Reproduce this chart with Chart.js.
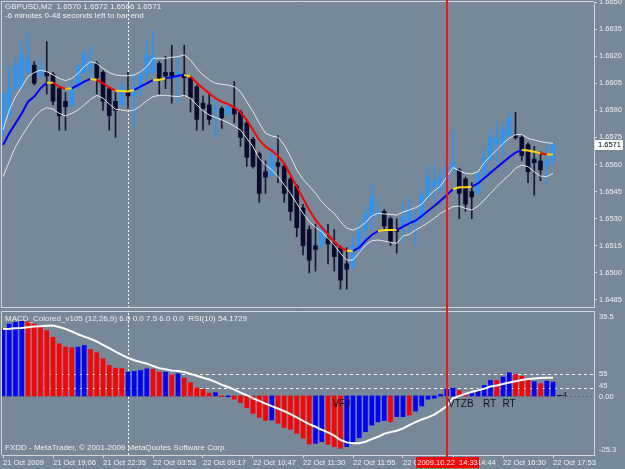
<!DOCTYPE html>
<html>
<head>
<meta charset="utf-8">
<script src="https://cdn.jsdelivr.net/npm/chart.js@4.4.1/dist/chart.umd.min.js"></script>
<style>
  body { margin:0; background:#778899; }
  #wrap { position:relative; width:625px; height:469px; overflow:hidden; background:#778899; }
  canvas { position:absolute; left:0; }
  #priceChart { top:0; }
  #macdChart { top:310px; }
</style>
</head>
<body>
<div id="wrap">
  <canvas id="priceChart" width="625" height="310"></canvas>
  <canvas id="macdChart" width="625" height="159"></canvas>
</div>
<script>
// ---- data (GBPUSD M2) ----
var priceTicks = [1.6650,1.6635,1.6620,1.6605,1.6590,1.6575,1.6560,1.6545,1.6530,1.6515,1.6500,1.6485];
var tickBars = [0,8,16,24,32,40,48,56,64,72,80,88];
var timeLabels = ['21 Oct 2009','21 Oct 19:06','21 Oct 22:35','22 Oct 03:53','22 Oct 09:17','22 Oct 10:47',
                  '22 Oct 11:30','22 Oct 11:55','22 Oct 13:12','22 Oct 14:44','22 Oct 16:30','22 Oct 17:53'];

var openP  = [1.6579,1.6587,1.6602,1.6603,1.6611,1.6615,1.6609,1.6611,1.6610,1.6602,
              1.6595,1.6593,1.6603,1.6611,1.6613,1.6616,1.6611,1.6602,1.6595,1.6593,
              1.6600,1.6598,1.6602,1.6610,1.6611,1.6616,1.6611,1.6611,1.6609,1.6610,
              1.6608,1.6603,1.6594,1.6593,1.6590,1.6591,1.6588,1.6591,1.6589,1.6583,
              1.6574,1.6566,1.6556,1.6554,1.6561,1.6559,1.6552,1.6548,1.6536,1.6524,
              1.6515,1.6515,1.6519,1.6517,1.6514,1.6505,1.6503,1.6513,1.6524,1.6531,
              1.6533,1.6534,1.6530,1.6524,1.6526,1.6529,1.6527,1.6531,1.6542,1.6548,
              1.6546,1.6551,1.6557,1.6557,1.6552,1.6545,1.6544,1.6555,1.6563,1.6571,
              1.6571,1.6576,1.6576,1.6575,1.6571,1.6563,1.6562,1.6559,1.6562];
var highP  = [1.6600,1.6614,1.6619,1.6629,1.6633,1.6617,1.6619,1.6628,1.6611,1.6603,
              1.6600,1.6607,1.6616,1.6623,1.6626,1.6617,1.6612,1.6603,1.6600,1.6605,
              1.6611,1.6610,1.6613,1.6629,1.6634,1.6617,1.6620,1.6626,1.6620,1.6626,
              1.6609,1.6604,1.6598,1.6599,1.6598,1.6592,1.6593,1.6606,1.6590,1.6584,
              1.6575,1.6567,1.6562,1.6570,1.6576,1.6560,1.6553,1.6549,1.6538,1.6526,
              1.6527,1.6526,1.6527,1.6524,1.6515,1.6514,1.6520,1.6529,1.6537,1.6549,
              1.6539,1.6535,1.6531,1.6530,1.6539,1.6542,1.6535,1.6546,1.6560,1.6559,
              1.6557,1.6563,1.6579,1.6558,1.6553,1.6550,1.6556,1.6569,1.6579,1.6584,
              1.6582,1.6589,1.6589,1.6576,1.6572,1.6570,1.6567,1.6570,1.6572];
var lowP   = [1.6576,1.6586,1.6601,1.6602,1.6610,1.6604,1.6608,1.6599,1.6593,1.6579,
              1.6579,1.6592,1.6602,1.6610,1.6608,1.6599,1.6590,1.6579,1.6575,1.6592,
              1.6591,1.6581,1.6598,1.6607,1.6610,1.6599,1.6602,1.6594,1.6594,1.6598,
              1.6589,1.6579,1.6579,1.6582,1.6575,1.6580,1.6587,1.6583,1.6570,1.6559,
              1.6558,1.6539,1.6544,1.6553,1.6550,1.6539,1.6529,1.6520,1.6510,1.6500,
              1.6501,1.6514,1.6505,1.6501,1.6491,1.6491,1.6502,1.6512,1.6515,1.6524,
              1.6531,1.6524,1.6515,1.6511,1.6516,1.6522,1.6515,1.6529,1.6540,1.6540,
              1.6544,1.6548,1.6555,1.6530,1.6534,1.6530,1.6543,1.6553,1.6562,1.6561,
              1.6564,1.6575,1.6574,1.6562,1.6550,1.6543,1.6551,1.6549,1.6560];
var closeP = [1.6599,1.6602,1.6615,1.6621,1.6618,1.6605,1.6613,1.6609,1.6595,1.6587,
              1.6592,1.6603,1.6614,1.6621,1.6616,1.6608,1.6595,1.6587,1.6590,1.6603,
              1.6598,1.6603,1.6610,1.6621,1.6620,1.6608,1.6609,1.6609,1.6611,1.6608,
              1.6597,1.6585,1.6591,1.6585,1.6591,1.6586,1.6592,1.6588,1.6575,1.6564,
              1.6559,1.6544,1.6553,1.6565,1.6559,1.6544,1.6534,1.6525,1.6515,1.6507,
              1.6513,1.6525,1.6516,1.6509,1.6496,1.6502,1.6515,1.6524,1.6533,1.6542,
              1.6534,1.6526,1.6517,1.6523,1.6531,1.6535,1.6530,1.6543,1.6553,1.6551,
              1.6553,1.6559,1.6561,1.6544,1.6538,1.6542,1.6555,1.6564,1.6575,1.6574,
              1.6579,1.6586,1.6575,1.6565,1.6556,1.6561,1.6557,1.6562,1.6571];

// colored moving average: b = rising, r = falling, y = flat
var maLine = [1.65708,1.65773,1.65828,1.65883,1.65948,1.65976,1.66022,1.66053,1.66053,1.66031,
              1.66018,1.66022,1.66040,1.66059,1.66074,1.66068,1.66050,1.66027,1.66009,1.66007,
              1.66005,1.66013,1.66031,1.66050,1.66068,1.66068,1.66077,1.66083,1.66092,1.66096,
              1.66087,1.66053,1.66022,1.65994,1.65967,1.65948,1.65935,1.65917,1.65889,1.65847,
              1.65791,1.65736,1.65699,1.65677,1.65647,1.65607,1.65542,1.65477,1.65413,1.65348,
              1.65293,1.65252,1.65215,1.65173,1.65141,1.65123,1.65121,1.65141,1.65178,1.65210,
              1.65232,1.65237,1.65237,1.65237,1.65256,1.65274,1.65289,1.65315,1.65343,1.65370,
              1.65400,1.65431,1.65463,1.65474,1.65474,1.65477,1.65496,1.65524,1.65555,1.65584,
              1.65612,1.65640,1.65666,1.65680,1.65677,1.65671,1.65662,1.65655,1.65656];
var maState = 'bbbbbbbb' + 'y' + 'rr' + 'y' + 'bbb' + 'y' + 'rrr' + 'yyy' + 'bbb' + 'yy' + 'bbb' + 'y' +
              'rrrrrrrrrrrrrrrrrrrrrrrrr' + 'y' + 'bbbb' + 'yyy' + 'bbbbbbbbb' + 'yyy' + 'bbbbbbbb' + 'yyy' + 'r' + 'y';
var bandUp = [1.65791,1.65902,1.65976,1.66031,1.66087,1.66109,1.66123,1.66114,1.66096,1.66077,
              1.66064,1.66077,1.66105,1.66142,1.66170,1.66160,1.66133,1.66109,1.66096,1.66092,
              1.66092,1.66096,1.66114,1.66142,1.66188,1.66188,1.66188,1.66194,1.66197,1.66207,
              1.66179,1.66133,1.66096,1.66068,1.66050,1.66044,1.66040,1.66031,1.66003,1.65948,
              1.65893,1.65828,1.65773,1.65758,1.65751,1.65708,1.65644,1.65570,1.65518,1.65481,
              1.65440,1.65394,1.65357,1.65330,1.65284,1.65247,1.65237,1.65252,1.65278,1.65315,
              1.65330,1.65326,1.65324,1.65320,1.65337,1.65348,1.65361,1.65380,1.65422,1.65455,
              1.65481,1.65533,1.65584,1.65566,1.65551,1.65548,1.65560,1.65610,1.65647,1.65680,
              1.65717,1.65745,1.65765,1.65767,1.65745,1.65736,1.65727,1.65721,1.65717];
var bandDn = [1.65533,1.65616,1.65699,1.65758,1.65810,1.65861,1.65898,1.65915,1.65906,1.65883,
              1.65869,1.65883,1.65902,1.65930,1.65961,1.65983,1.65967,1.65935,1.65906,1.65902,
              1.65896,1.65902,1.65924,1.65954,1.65976,1.65983,1.65983,1.65979,1.65976,1.65983,
              1.65967,1.65930,1.65898,1.65874,1.65861,1.65847,1.65832,1.65813,1.65791,1.65745,
              1.65699,1.65634,1.65597,1.65570,1.65533,1.65487,1.65440,1.65385,1.65330,1.65284,
              1.65252,1.65228,1.65191,1.65154,1.65108,1.65071,1.65071,1.65112,1.65154,1.65178,
              1.65182,1.65176,1.65169,1.65164,1.65204,1.65213,1.65237,1.65256,1.65278,1.65302,
              1.65330,1.65348,1.65367,1.65370,1.65357,1.65348,1.65370,1.65404,1.65440,1.65477,
              1.65511,1.65542,1.65579,1.65597,1.65588,1.65560,1.65536,1.65533,1.65551];

// MACD_Colored histogram (b/r), signal and RSI(10)
var macdHist = [28.7,30.8,31.5,32.0,31.8,30.8,29.4,28.0,25.1,22.3,
                20.9,20.6,20.9,21.6,19.9,18.5,15.9,13.1,11.9,11.7,
                10.2,10.5,10.9,11.6,11.4,10.2,10.2,9.1,9.5,7.7,
                5.7,3.4,2.8,1.2,1.4,-0.3,-0.4,-1.4,-2.9,-5.1,
                -7.5,-9.2,-10.5,-10.3,-11.7,-13.5,-14.3,-16.0,-18.1,-20.6,
                -20.3,-19.6,-20.7,-21.7,-22.4,-21.7,-19.6,-17.9,-15.3,-12.5,
                -11.1,-10.5,-11.1,-8.9,-8.9,-8.2,-6.5,-4.3,-1.4,-1.0,
                0.6,2.8,3.3,2.3,1.0,1.7,2.9,4.5,6.6,6.6,
                8.1,9.9,9.2,8.4,6.8,6.1,5.3,6.3,5.9];
var histState = 'bbbb' + 'rrrrrrrr' + 'bb' + 'rrrrrr' + 'bbbb' + 'rr' + 'b' + 'r' + 'b' + 'rrrrr' + 'b' + 'r' + 'b' +
                'rrrrrr' + 'b' + 'rrrrrr' + 'bb' + 'rrr' + 'bbbbbbb' + 'r' + 'bb' + 'r' + 'bbbbbbb' + 'rr' +
                'bbbb' + 'r' + 'bb' + 'rrr' + 'b' + 'r' + 'bb';
var macdSignal = [28.7,28.8,29.0,29.1,29.4,29.7,29.8,30.0,30.1,29.5,
                  28.7,27.6,26.4,25.4,24.4,23.3,21.9,20.5,19.0,17.6,
                  16.3,15.3,14.5,13.8,12.8,11.9,11.4,10.9,10.7,10.2,
                  9.4,8.6,7.8,7.0,6.0,4.8,3.8,2.7,1.4,0.3,
                  -1.0,-2.1,-3.3,-4.4,-5.4,-6.5,-7.8,-9.2,-10.7,-12.1,
                  -13.2,-14.5,-15.6,-17.0,-18.9,-19.9,-20.3,-20.3,-19.6,-18.5,
                  -17.5,-16.2,-15.5,-14.9,-13.9,-12.5,-11.2,-10.1,-9.2,-8.0,
                  -6.3,-4.3,-1.1,0.0,0.9,1.7,2.4,3.1,4.0,4.5,
                  5.1,5.7,6.3,6.8,7.2,7.5,7.7,7.8,7.8];
var rsiLine = [70.7,72.8,74.6,76.5,71.1,65.8,72.8,65.4,56.1,48.7,
               55.0,58.4,61.4,64.7,58.4,53.8,49.6,44.1,48.7,53.8,
               47.3,52.6,57.3,60.7,52.6,49.2,57.7,49.6,55.0,46.8,
               44.5,43.4,46.8,43.1,49.6,45.7,50.5,45.0,43.4,41.7,
               40.4,42.7,46.4,45.0,41.7,38.0,34.8,31.8,29.2,27.9,
               35.7,42.7,39.4,35.7,32.5,40.4,44.5,48.0,52.6,57.3,
               48.7,45.0,42.5,51.5,53.3,46.8,51.9,56.1,59.6,51.5,
               57.3,60.7,53.3,48.7,46.4,53.8,56.6,59.6,61.9,53.3,
               57.3,61.9,56.6,49.6,52.6,55.0,47.3,53.3,54.2];
var rsiLevels = [55, 45];
var macdLabels = [35.5, 0, -25.3];

var noteText = ['VFJ','VTZB','RT','RT'];
var noteBar  = [52.7, 71.2, 76.8, 79.9];
var cursorBar = 71, crossBar = 20, lastPrice = 1.6571;

// ---- look ----
var FRAME = '#d3d7dc', TXT = '#f0f0f0';
var FONT = '"Liberation Sans", Arial, sans-serif';
var X_MIN = -0.16, X_MAX = 94.56;
var stateCol = {b:'#0000ff', r:'#ff0000', y:'#ffd700'};

function pts(arr){ return arr.map(function(v,i){ return {x:i, y:v}; }); }
function isUp(i){ return closeP[i] >= openP[i]; }
function crisp(v){ return Math.round(v) + 0.5; }

function vline(ctx, x, y0, y1, col, dash){
  ctx.save(); ctx.strokeStyle = col; ctx.lineWidth = 1;
  if (dash) ctx.setLineDash(dash);
  ctx.beginPath(); ctx.moveTo(crisp(x), y0); ctx.lineTo(crisp(x), y1); ctx.stroke();
  ctx.restore();
}
function hline(ctx, y, x0, x1, col, dash){
  ctx.save(); ctx.strokeStyle = col; ctx.lineWidth = 1;
  if (dash) ctx.setLineDash(dash);
  ctx.beginPath(); ctx.moveTo(x0, crisp(y)); ctx.lineTo(x1, crisp(y)); ctx.stroke();
  ctx.restore();
}
function redLine(ctx, x, y0, y1){
  ctx.save(); ctx.fillStyle = '#ff1010';
  ctx.fillRect(Math.round(x) - 1, y0, 2, y1 - y0);
  ctx.restore();
}
function text(ctx, s, x, y, col, size){
  ctx.save(); ctx.fillStyle = col; ctx.font = (size || 8) + 'px ' + FONT;
  ctx.textBaseline = 'middle'; ctx.textAlign = 'left';
  ctx.fillText(s, x, y); ctx.restore();
}
function noPad(s){ s.paddingTop = 0; s.paddingBottom = 0; s.paddingLeft = 0; s.paddingRight = 0; }

var pricePlugin = {
  id: 'pricePlugin',
  beforeDatasetsDraw: function(chart){
    var a = chart.chartArea, xs = chart.scales.x;
    vline(chart.ctx, xs.getPixelForValue(crossBar), a.top, a.bottom, '#ffffff', [2,2]);
  },
  afterDraw: function(chart){
    var c = chart.ctx, a = chart.chartArea, xs = chart.scales.x, ys = chart.scales.y;
    vline(c, a.left - 1, a.top - 1, a.bottom, FRAME);
    hline(c, a.top - 1, a.left - 1, a.right, FRAME);
    hline(c, a.bottom, a.left - 1, a.right, FRAME);
    redLine(c, xs.getPixelForValue(cursorBar), 0, chart.height);
    text(c, 'GBPUSD,M2  1.6570 1.6572 1.6566 1.6571', 5, 7, TXT, 8);
    text(c, '-6 minutes 0-48 seconds left to bar end', 5, 16, TXT, 8);
    var py = ys.getPixelForValue(lastPrice);
    c.fillStyle = '#ffffff';
    c.fillRect(a.right + 1, Math.round(py) - 5, 28, 10);
    text(c, lastPrice.toFixed(4), a.right + 4, py, '#000000', 7.5);
  }
};

var macdPlugin = {
  id: 'macdPlugin',
  beforeDatasetsDraw: function(chart){
    var c = chart.ctx, a = chart.chartArea, xs = chart.scales.x, rs = chart.scales.rsi, ms = chart.scales.y;
    hline(c, ms.getPixelForValue(0), a.left, a.right, '#5f6b78', [2,2]);
    rsiLevels.forEach(function(l){ hline(c, rs.getPixelForValue(l), a.left, a.right, '#ffffff', [3,3]); });
    vline(c, xs.getPixelForValue(crossBar), a.top, a.bottom, '#ffffff', [2,2]);
  },
  afterDraw: function(chart){
    var c = chart.ctx, a = chart.chartArea, xs = chart.scales.x, rs = chart.scales.rsi, ms = chart.scales.y;
    vline(c, a.left - 1, a.top - 2, a.bottom, FRAME);
    hline(c, a.top - 2, a.left - 1, a.right, FRAME);
    vline(c, a.right, a.top - 2, a.bottom, FRAME);
    text(c, 'MACD_Colored_v105 (12,26,9) 6.0 0.0 7.5 6.0 0.0  RSI(10) 54.1729', 5, a.top + 6, TXT, 8);
    text(c, 'FXDD - MetaTrader, \u00a9 2001-2009 MetaQuotes Software Corp.', 5, a.bottom - 7, TXT, 8);
    // right scale labels
    text(c, '35.5', a.right + 5, ms.getPixelForValue(macdLabels[0]) + 4, TXT, 7.5);
    text(c, '0.00', a.right + 5, ms.getPixelForValue(macdLabels[1]) + 1, TXT, 7.5);
    text(c, '-25.3', a.right + 5, ms.getPixelForValue(macdLabels[2]) - 5, TXT, 7.5);
    text(c, String(rsiLevels[0]), a.right + 5, rs.getPixelForValue(rsiLevels[0]), TXT, 7.5);
    text(c, String(rsiLevels[1]), a.right + 5, rs.getPixelForValue(rsiLevels[1]) - 2, TXT, 7.5);
    // object labels
    var ny = ms.getPixelForValue(-3.4);
    noteText.forEach(function(s, k){ text(c, s, xs.getPixelForValue(noteBar[k]), ny, '#10131c', 10); });
    var lx = xs.getPixelForValue(88) + 4;
    hline(c, ms.getPixelForValue(0.2), lx, lx + 5, '#10131c');
    text(c, '4', lx + 6, ms.getPixelForValue(0.2), '#10131c', 7);
    // cursor line + time box
    var cx = xs.getPixelForValue(cursorBar);
    redLine(c, cx, 0, a.bottom + 2);
    c.fillStyle = '#ff0000';
    c.fillRect(Math.round(cx) - 31, a.bottom + 2, 63, 11);
    c.save(); c.fillStyle = '#ffffff'; c.font = '7.5px ' + FONT; c.textAlign = 'center'; c.textBaseline = 'middle';
    c.fillText('2009.10.22  14:33', Math.round(cx) + 0.5, a.bottom + 8); c.restore();
  }
};

Chart.defaults.font.family = FONT;

new Chart(document.getElementById('priceChart'), {
  type: 'bar',
  data: {
    datasets: [
      { type:'line', order:0, data: pts(maLine), borderWidth:2, pointRadius:0, tension:0,
        borderColor:'#0000ff',
        segment: { borderColor: function(ctx){ return stateCol[maState[ctx.p1DataIndex]]; } } },
      { type:'line', order:1, data: pts(bandUp), borderWidth:1, borderColor:'#e6e6e6', pointRadius:0, tension:0 },
      { type:'line', order:1, data: pts(bandDn), borderWidth:1, borderColor:'#e6e6e6', pointRadius:0, tension:0 },
      { order:2, grouped:false, barThickness:4, minBarLength:1, borderWidth:0,
        data: openP.map(function(o,i){ return {x:i, y:[o, closeP[i]]}; }),
        backgroundColor: function(ctx){ return isUp(ctx.dataIndex) ? '#2f95f0' : '#0a0b2c'; } },
      { order:3, grouped:false, barThickness:1, borderWidth:0,
        data: lowP.map(function(l,i){ return {x:i, y:[l, highP[i]]}; }),
        backgroundColor: function(ctx){ return isUp(ctx.dataIndex) ? '#2f95f0' : '#16172e'; } }
    ]
  },
  options: {
    responsive:false, animation:false, events:[],
    layout: { padding: { left:2, top:2, right:0, bottom:3 } },
    plugins: { legend:{display:false}, tooltip:{enabled:false} },
    scales: {
      x: { type:'linear', display:false, min:X_MIN, max:X_MAX, offset:false, grid:{offset:false} },
      y: { position:'right', min:1.64811, max:1.6650,
           afterBuildTicks: function(s){ s.ticks = priceTicks.map(function(v){ return {value:v}; }); },
           afterFit: function(s){ s.width = 31; noPad(s); },
           border: { color:FRAME },
           grid: { drawOnChartArea:false, tickLength:3, color:FRAME },
           ticks: { autoSkip:false, color:TXT, padding:2, font:{size:7.5},
                    callback: function(v){ return Number(v).toFixed(4); } } }
    }
  },
  plugins: [pricePlugin]
});

new Chart(document.getElementById('macdChart'), {
  type: 'bar',
  data: {
    datasets: [
      { type:'line', order:0, yAxisID:'rsi', data: pts(rsiLine), borderWidth:1.5, borderColor:'#22ee22', pointRadius:0, tension:0 },
      { type:'line', order:1, data: pts(macdSignal), borderWidth:2, borderColor:'#ffffff', pointRadius:0, tension:0 },
      { order:2, grouped:false, barThickness:4, borderWidth:0, data: pts(macdHist),
        backgroundColor: function(ctx){ return histState[ctx.dataIndex] === 'b' ? '#0000ff' : '#ff0000'; } }
    ]
  },
  options: {
    responsive:false, animation:false, events:[],
    layout: { padding: { left:2, top:3, right:0, bottom:0 } },
    plugins: { legend:{display:false}, tooltip:{enabled:false} },
    scales: {
      x: { type:'linear', position:'bottom', min:X_MIN, max:X_MAX, offset:false,
           afterBuildTicks: function(s){ s.ticks = tickBars.map(function(v){ return {value:v}; }); },
           afterFit: function(s){ s.height = 14; noPad(s); },
           border: { color:FRAME },
           grid: { drawOnChartArea:false, tickLength:3, color:FRAME, offset:false },
           ticks: { autoSkip:false, maxRotation:0, align:'start', padding:0, color:TXT, font:{size:7.5},
                    callback: function(v, k){ return timeLabels[k]; } } },
      y: { position:'right', min:-25.3, max:35.5,
           afterFit: function(s){ s.width = 31; noPad(s); },
           border: { display:false },
           grid: { display:false },
           ticks: { display:false } },
      rsi: { display:false, min:0, max:100 }
    }
  },
  plugins: [macdPlugin]
});
</script>
</body>
</html>
